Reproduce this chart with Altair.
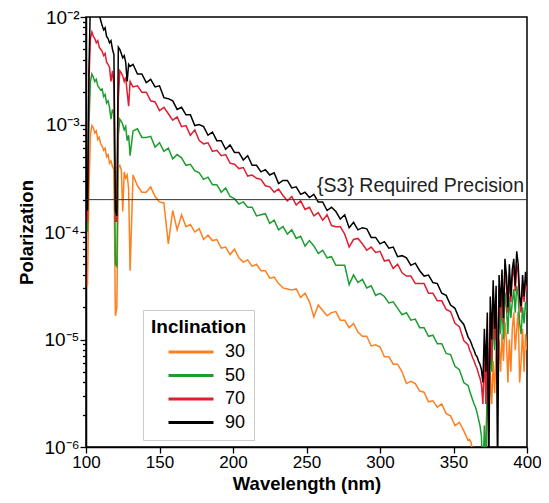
import altair as alt
import pandas as pd

FONT = "Liberation Sans"

# ---- data (log10 of polarization) ----
wavelength = [
    101, 102, 103, 104, 105, 106, 107, 108, 109, 110,
    111, 112, 113, 114, 115, 116, 117, 118, 119, 120,
    121, 122, 123, 124, 125, 126, 127, 128, 129, 130,
    132, 135, 138, 141, 144, 147, 150, 153, 156, 159,
    162, 165, 168, 171, 174, 177, 180, 183, 186, 189,
    192, 195, 198, 201, 204, 207, 210, 213, 216, 219,
    222, 225, 228, 231, 234, 237, 240, 243, 246, 249,
    252, 255, 258, 261, 264, 267, 270, 273, 276, 279,
    282, 285, 288, 291, 294, 297, 300, 303, 306, 309,
    312, 315, 318, 321, 324, 327, 330, 333, 336, 339,
    342, 345, 348, 351, 354, 357, 360,
    361, 362, 363, 364, 365, 366, 367, 368, 369, 370,
    371, 372, 373, 374, 375, 376, 377, 378, 379, 380,
    381, 382, 383, 384, 385, 386, 387, 388, 389, 390,
    391, 392, 393, 394, 395, 396, 397, 398, 399, 400,
]

log_pol_90 = [
    -3.8, -2.5, -1.85, -1.8, -1.85, -1.9, -1.88, -1.95, -1.98, -2.03,
    -2.08, -2.12, -2.10, -2.18, -2.2, -2.24, -2.22, -2.3, -2.35, -3.8,
    -3.85, -2.28, -2.30, -2.34, -2.38, -2.36, -2.42, -2.6, -2.44, -2.46,
    -2.44, -2.53, -2.53, -2.61, -2.58, -2.65, -2.64, -2.75, -2.76, -2.78,
    -2.86, -2.84, -2.91, -2.91, -3.01, -3.00, -3.02, -3.10, -3.07, -3.15,
    -3.15, -3.23, -3.19, -3.26, -3.26, -3.33, -3.29, -3.38, -3.38, -3.44,
    -3.42, -3.47, -3.45, -3.55, -3.52, -3.52, -3.59, -3.58, -3.65, -3.63,
    -3.68, -3.65, -3.72, -3.72, -3.80, -3.77, -3.81, -3.88, -3.84, -3.96,
    -3.91, -3.98, -3.96, -3.97, -4.05, -4.05, -4.11, -4.09, -4.15, -4.14,
    -4.23, -4.22, -4.24, -4.31, -4.29, -4.36, -4.41, -4.40, -4.47, -4.48,
    -4.57, -4.59, -4.68, -4.71, -4.81, -4.86, -4.98,
    -5.0, -5.03, -5.07, -5.1, -5.14, -5.16, -5.2, -5.23, -5.28, -5.4,
    -4.9, -5.3, -4.75, -6.3, -4.6, -5.0, -4.45, -4.9, -4.5, -6.3,
    -4.4, -4.7, -4.35, -4.8, -4.25, -4.4, -4.7, -4.3, -4.6, -4.35,
    -4.25, -4.5, -4.18, -4.3, -4.6, -4.69, -4.4, -4.6, -4.37, -4.5,
]

log_pol_70 = [
    -3.9, -2.6, -2.2, -2.14, -2.18, -2.2, -2.24, -2.22, -2.28, -2.3,
    -2.32, -2.36, -2.34, -2.42, -2.44, -2.47, -2.6, -2.5, -2.64, -3.9,
    -3.9, -2.76, -2.5, -2.52, -2.55, -2.6, -2.56, -2.7, -2.83, -2.6,
    -2.65, -2.64, -2.70, -2.70, -2.78, -2.79, -2.87, -2.84, -2.90, -2.96,
    -2.93, -3.02, -3.01, -3.10, -3.05, -3.15, -3.18, -3.17, -3.25, -3.24,
    -3.29, -3.28, -3.36, -3.37, -3.41, -3.40, -3.48, -3.47, -3.50, -3.51,
    -3.57, -3.58, -3.63, -3.60, -3.66, -3.71, -3.67, -3.75, -3.71, -3.79,
    -3.77, -3.85, -3.82, -3.89, -3.84, -3.94, -3.95, -3.95, -4.02, -4.14,
    -4.07, -4.06, -4.11, -4.17, -4.14, -4.19, -4.18, -4.27, -4.26, -4.34,
    -4.30, -4.38, -4.41, -4.41, -4.48, -4.48, -4.48, -4.57, -4.57, -4.64,
    -4.64, -4.72, -4.74, -4.85, -4.88, -5.01, -5.05,
    -5.1, -5.13, -5.17, -5.2, -5.24, -5.27, -5.32, -5.36, -5.42, -5.6,
    -5.1, -5.6, -4.9, -5.5, -4.75, -5.2, -4.55, -5.0, -4.6, -5.3,
    -4.5, -4.8, -4.45, -4.85, -4.33, -4.5, -4.75, -4.4, -4.65, -4.42,
    -4.33, -4.55, -4.3, -4.38, -4.65, -4.75, -4.5, -4.65, -4.45, -4.55,
]

log_pol_50 = [
    -4.0, -3.0, -2.6, -2.53, -2.56, -2.6, -2.58, -2.64, -2.66, -2.68,
    -2.67, -2.74, -2.72, -2.8, -2.78, -2.84, -2.95, -2.86, -2.9, -4.3,
    -4.32, -3.1, -2.95, -2.97, -3.0, -3.05, -3.02, -3.15, -3.1, -3.29,
    -3.06, -3.04, -3.12, -3.12, -3.11, -3.21, -3.17, -3.25, -3.22, -3.32,
    -3.28, -3.31, -3.38, -3.37, -3.43, -3.45, -3.51, -3.49, -3.56, -3.56,
    -3.63, -3.59, -3.67, -3.69, -3.74, -3.72, -3.77, -3.77, -3.85, -3.84,
    -3.83, -3.92, -3.89, -3.98, -3.95, -4.02, -3.98, -4.06, -4.04, -4.13,
    -4.08, -4.13, -4.20, -4.17, -4.24, -4.23, -4.31, -4.31, -4.31, -4.49,
    -4.40, -4.47, -4.44, -4.52, -4.50, -4.59, -4.57, -4.60, -4.66, -4.65,
    -4.71, -4.77, -4.75, -4.82, -4.81, -4.89, -4.89, -4.97, -4.96, -5.04,
    -5.04, -5.13, -5.14, -5.25, -5.28, -5.40, -5.43,
    -5.48, -5.52, -5.56, -5.6, -5.63, -5.68, -5.74, -5.8, -5.9, -6.3,
    -5.8, -6.2, -5.3, -5.6, -5.0, -5.3, -4.8, -5.1, -4.75, -5.2,
    -4.7, -4.95, -4.65, -5.0, -4.56, -4.7, -4.95, -4.6, -4.8, -4.65,
    -4.53, -4.75, -4.5, -4.6, -4.85, -4.95, -4.7, -4.85, -4.65, -4.75,
]

log_pol_30 = [
    -4.5, -3.6, -3.1, -3.01, -3.03, -3.08, -3.06, -3.14, -3.12, -3.18,
    -3.2, -3.24, -3.22, -3.3, -3.28, -3.36, -3.34, -3.39, -3.42, -4.78,
    -4.7, -3.4, -3.38, -3.42, -3.81, -3.44, -3.5, -3.47, -3.6, -4.36,
    -3.47, -3.57, -3.63, -3.63, -3.58, -3.67, -3.72, -3.73, -4.11, -3.80,
    -3.98, -3.84, -3.95, -3.93, -4.00, -3.97, -4.07, -4.03, -4.08, -4.07,
    -4.15, -4.14, -4.21, -4.16, -4.24, -4.28, -4.26, -4.32, -4.30, -4.36,
    -4.36, -4.43, -4.42, -4.48, -4.52, -4.53, -4.54, -4.53, -4.61, -4.57,
    -4.65, -4.79, -4.68, -4.73, -4.78, -4.75, -4.74, -4.82, -4.82, -4.89,
    -4.85, -4.93, -4.97, -4.97, -5.06, -5.05, -5.07, -5.16, -5.16, -5.23,
    -5.23, -5.30, -5.41, -5.39, -5.41, -5.48, -5.49, -5.58, -5.57, -5.63,
    -5.60, -5.69, -5.71, -5.80, -5.77, -5.85, -5.94,
    -5.93, -5.96, -6.05, -6.2, -6.3, -6.4, -6.4, -6.4, -6.4, -6.5,
    -6.3, -6.0, -5.5, -5.8, -5.3, -5.6, -5.2, -5.5, -5.1, -5.4,
    -5.0, -5.3, -4.95, -5.2, -4.84, -5.0, -5.4, -5.0, -5.3, -4.9,
    -4.75, -5.1, -4.9, -4.74, -5.4, -5.2, -4.9, -5.3, -4.95, -5.1,
]

inclinations = ["30", "50", "70", "90"]
colors = ["#ff7f1e", "#1b9e2f", "#e01e2f", "#000000"]
required_precision = [2e-4]
precision_label = ["{S3} Required Precision"]
x_ticks = [100, 150, 200, 250, 300, 350, 400]
y_major = [1e-6, 1e-5, 1e-4, 1e-3, 1e-2]
y_minor = [m * b for b in y_major[:-1] for m in range(2, 10)]

series = [log_pol_30, log_pol_50, log_pol_70, log_pol_90]
rows = []
for inc, vals in zip(inclinations, series):
    assert len(vals) == len(wavelength), (inc, len(vals), len(wavelength))
    for w, v in zip(wavelength, vals):
        rows.append({"Wavelength": w, "Polarization": 10 ** v, "Inclination": inc})
df = pd.DataFrame(rows)
prec_df = pd.DataFrame({"Polarization": required_precision, "label": precision_label})

x_scale = alt.Scale(domain=[100, 400], nice=False, zero=False)
y_scale = alt.Scale(type="log", domain=[1e-6, 1e-2], nice=False)

sup_expr = ("'10' + ['\u207b\u2076','\u207b\u2075','\u207b\u2074','\u207b\u00b3','\u207b\u00b2']"
            "[round(log(datum.value)/LN10) + 6]")

lines = alt.Chart(df).mark_line(clip=True, strokeWidth=1.5).encode(
    x=alt.X("Wavelength:Q", scale=x_scale,
            axis=alt.Axis(values=x_ticks, title="Wavelength (nm)", format="d",
                          labelFontSize=17, titleFontSize=18.5, titleFontWeight="bold",
                          tickSize=6, labelPadding=1, titlePadding=4, labelFlush=False)),
    y=alt.Y("Polarization:Q", scale=y_scale,
            axis=alt.Axis(values=y_major, labelExpr=sup_expr, title="Polarization",
                          orient="left", tickSize=6, labelFontSize=19, labelPadding=1,
                          titleFontSize=18.5, titleFontWeight="bold", titlePadding=7)),
    color=alt.Color("Inclination:N",
                    scale=alt.Scale(domain=inclinations, range=colors),
                    legend=alt.Legend(title="Inclination", orient="none",
                                      legendX=57, legendY=293,
                                      titleFontSize=19, titleFontWeight="bold",
                                      titleFont=FONT, labelFont=FONT, titlePadding=2,
                                      labelFontSize=18, labelColor="black", titleColor="black",
                                      symbolType="M-2,0H2", symbolSize=506,
                                      symbolStrokeWidth=3, symbolOffset=27,
                                      fillColor="white", strokeColor="#cccccc",
                                      padding=8, rowPadding=1.5, labelOffset=21)),
)

rule = alt.Chart(prec_df).mark_rule(color="#333333", strokeWidth=1).encode(
    y=alt.Y("Polarization:Q", scale=y_scale,
            axis=alt.Axis(values=y_minor, labels=False, tickSize=3.5, domain=False,
                          title=None, orient="left", grid=False)),
)

text = alt.Chart(prec_df).mark_text(align="right", baseline="bottom", dy=-4,
                                    fontSize=19.5, font=FONT, color="#222222").encode(
    x=alt.datum(398),
    y=alt.Y("Polarization:Q", scale=y_scale, axis=None),
    text="label:N",
)

chart = (
    alt.layer(lines, rule, text)
    .resolve_axis(y="independent")
    .properties(width=441, height=430,
                autosize=alt.AutoSizeParams(type="none"),
                padding={"left": 78, "top": 9, "right": 14, "bottom": 48})
    .configure_view(stroke="black", strokeWidth=1.5)
    .configure_axis(labelFont=FONT, titleFont=FONT, labelColor="black", titleColor="black",
                    domainColor="black", tickColor="black", domainWidth=1.5,
                    tickWidth=1.3, grid=False)
)

chart.save("out.html", embed_options={"renderer": "svg", "actions": False})
